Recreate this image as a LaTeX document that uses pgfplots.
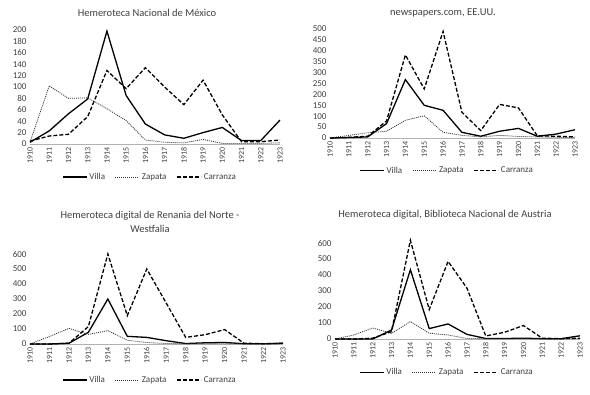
\documentclass[border=0pt]{standalone}
\usepackage{pgfplots}
\usepackage{pgfplotstable}
\pgfplotsset{compat=1.18}
\usepackage{fontspec}
\setmainfont{Carlito}
\definecolor{txt}{HTML}{404040}
\pgfplotstableread{
year villa zapata carranza
1910 3 3 5
1911 23 102 14
1912 53 80 17
1913 79 81 48
1914 198 62 129
1915 85 41 97
1916 35 7 134
1917 16 3 100
1918 10 2 69
1919 20 8 112
1920 29 1 51
1921 6 1 4
1922 6 1 4
1923 42 2 7
}\tA
\pgfplotstableread{
year villa zapata carranza
1910 0 0 0
1911 2 12 3
1912 5 24 8
1913 66 31 78
1914 268 81 381
1915 150 102 225
1916 127 26 489
1917 26 12 118
1918 8 5 34
1919 31 12 154
1920 44 7 138
1921 8 5 10
1922 18 3 8
1923 38 2 5
}\tB
\pgfplotstableread{
year villa zapata carranza
1910 0 0 0
1911 0 50 0
1912 5 104 5
1913 78 64 116
1914 300 89 600
1915 51 25 189
1916 44 10 500
1917 22 3 273
1918 3 2 44
1919 8 2 62
1920 10 2 96
1921 2 1 5
1922 1 1 2
1923 5 1 5
}\tC
\pgfplotstableread{
year villa zapata carranza
1910 0 0 0
1911 0 25 0
1912 0 69 5
1913 56 35 46
1914 433 109 617
1915 65 36 184
1916 94 25 485
1917 29 3 318
1918 3 2 19
1919 3 2 42
1920 5 2 84
1921 2 1 5
1922 2 1 2
1923 20 1 5
}\tD
\pgfplotsset{
  panel/.style={
    scale only axis,
    xmin=1910, xmax=1923, ymin=0,
    xtick={1910,...,1923},
    axis lines*=left,
    axis line style={-},
    y axis line style={draw=none},
    x axis line style={draw=black!30, line width=0.6pt},
    major tick length=0pt,
    /pgf/number format/1000 sep={},
    /pgf/number format/assume math mode=true,
    yticklabel style={font=\fontsize{9}{10}\selectfont, text=txt},
    xticklabel style={font=\fontsize{8}{9}\selectfont, text=txt, rotate=90, anchor=east},
    xtick pos=bottom,
    clip=false,
    legend columns=3,
    legend cell align=left,
    legend style={draw=none, fill=none, font=\fontsize{9}{10}\selectfont, text=txt,
      /tikz/every even column/.append style={column sep=8pt}},
    legend image code/.code={\draw[##1] (0pt,0pt) -- (24pt,0pt);},
  },
  villa/.style={black, line width=1.3pt, solid},
  zapata/.style={black!80, line width=0.8pt, dash pattern=on 1pt off 1pt},
  carranza/.style={black, line width=1.3pt, dash pattern=on 4pt off 2pt},
}
\begin{document}
\begin{tikzpicture}
\path[use as bounding box] (0pt,0pt) rectangle (590pt,395pt);
% Panel 1
\begin{axis}[panel, at={(30pt,251pt)}, anchor=south west, width=250pt, height=114pt,
  ymax=200, ytick={0,20,...,200},
  legend style={at={(0.48,-0.29)}, anchor=center}]
\addplot[villa] table[x=year,y=villa]{\tA};
\addplot[zapata] table[x=year,y=zapata]{\tA};
\addplot[carranza] table[x=year,y=carranza]{\tA};
\legend{Villa,Zapata,Carranza}
\end{axis}
\node[font=\fontsize{10.5}{12}\selectfont, text=txt] at (147pt,382pt) {Hemeroteca Nacional de México};
% Panel 2
\begin{axis}[panel, at={(330pt,257pt)}, anchor=south west, width=245pt, height=109pt,
  ymax=500, ytick={0,50,...,500},
  legend style={at={(0.478,-0.30)}, anchor=center}]
\addplot[villa] table[x=year,y=villa]{\tB};
\addplot[zapata] table[x=year,y=zapata]{\tB};
\addplot[carranza] table[x=year,y=carranza]{\tB};
\legend{Villa,Zapata,Carranza}
\end{axis}
\node[font=\fontsize{10.5}{12}\selectfont, text=txt] at (443pt,382pt) {newspapers.com, EE.UU.};
% Panel 3
\begin{axis}[panel, at={(30pt,51pt)}, anchor=south west, width=253pt, height=90pt,
  ymax=600, ytick={0,100,...,600},
  legend style={at={(0.474,-0.40)}, anchor=center}]
\addplot[villa] table[x=year,y=villa]{\tC};
\addplot[zapata] table[x=year,y=zapata]{\tC};
\addplot[carranza] table[x=year,y=carranza]{\tC};
\legend{Villa,Zapata,Carranza}
\end{axis}
\node[font=\fontsize{10.5}{14}\selectfont, text=txt, align=center] at (150pt,173pt) {Hemeroteca digital de Renania del Norte -\\Westfalia};
% Panel 4
\begin{axis}[panel, at={(335pt,56pt)}, anchor=south west, width=245pt, height=102.4pt,
  ymax=640, ytick={0,100,...,600},
  legend style={at={(0.457,-0.325)}, anchor=center}]
\addplot[villa] table[x=year,y=villa]{\tD};
\addplot[zapata] table[x=year,y=zapata]{\tD};
\addplot[carranza] table[x=year,y=carranza]{\tD};
\legend{Villa,Zapata,Carranza}
\end{axis}
\node[font=\fontsize{10.5}{12}\selectfont, text=txt] at (445pt,180pt) {Hemeroteca digital, Biblioteca Nacional de Austria};
\end{tikzpicture}
\end{document}
